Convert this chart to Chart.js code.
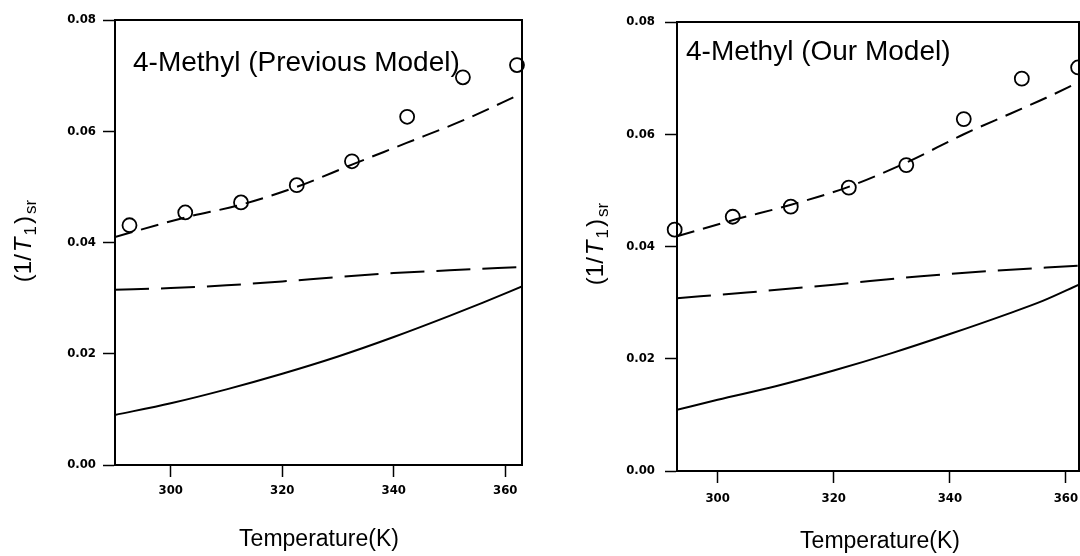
<!DOCTYPE html>
<html lang="en">
<head>
<meta charset="UTF-8">
<title>4-Methyl (1/T1)sr vs Temperature</title>
<script src="https://cdn.jsdelivr.net/npm/chart.js"></script>
<style>
  * { margin:0; padding:0; box-sizing:border-box; }
  body { width:1080px; height:556px; background:#fff; overflow:hidden; position:relative; }
  .panel { position:absolute; top:0; width:540px; height:556px; }
  #leftPanel { left:0; }
  #rightPanel { left:540px; }
</style>
</head>
<body>
<div class="panel" id="leftPanel"><canvas id="chartPrev" width="540" height="556"></canvas></div>
<div class="panel" id="rightPanel"><canvas id="chartOurs" width="540" height="556"></canvas></div>
<script>
// ticks
var xTicks = [300, 320, 340, 360];
var yTicks = [0.00, 0.02, 0.04, 0.06, 0.08];

// measured points (circles)
var tempMeasured = [292.6, 302.6, 312.6, 322.6, 332.5, 342.4, 352.4, 362.1];
var prevMeasured = [0.0431, 0.0454, 0.0472, 0.0503, 0.0546, 0.0626, 0.0697, 0.0719];
var oursMeasured = [0.0430, 0.0453, 0.0471, 0.0505, 0.0545, 0.0627, 0.0699, 0.0719];

// previous model curves
var prevTotalT = [290, 302.6, 312.6, 322.6, 332.5, 342.3, 352.3, 363];
var prevTotal  = [0.0410, 0.0445, 0.0468, 0.0500, 0.0540, 0.0579, 0.0619, 0.0668];
var prevDashT  = [290, 300, 310, 320, 330, 340, 350, 363];
var prevDash   = [0.0315, 0.0318, 0.0323, 0.0330, 0.0338, 0.0345, 0.0350, 0.0356];
var prevSolidT = [290, 300, 310, 320, 330, 340, 350, 356, 363];
var prevSolid  = [0.0090, 0.0111, 0.0136, 0.0164, 0.0195, 0.0230, 0.0268, 0.0292, 0.0321];

// our model curves
var oursTotalT = [293, 302.3, 312.5, 322.2, 332.6, 342.4, 350.5, 356.6, 362.25];
var oursTotal  = [0.0418, 0.0446, 0.0474, 0.0505, 0.0550, 0.0600, 0.0637, 0.0665, 0.0693];
var oursDashT  = [293, 305, 320, 335, 345, 362.25];
var oursDash   = [0.0308, 0.0318, 0.0332, 0.0347, 0.0355, 0.0366];
var oursSolidT = [293, 300, 310, 320, 330, 340, 350, 356, 362.25];
var oursSolid  = [0.0109, 0.0127, 0.0151, 0.0179, 0.0210, 0.0244, 0.0280, 0.0303, 0.0332];

var SANS = '"Liberation Sans", Arial, sans-serif';

function pts(xs, ys) {
  return xs.map(function(x, i) { return { x: x, y: ys[i] }; });
}

// frame + texts drawn on top of the chart
var panelText = {
  id: 'panelText',
  afterDraw: function(chart, args, o) {
    var ctx = chart.ctx, a = chart.chartArea;
    ctx.save();
    ctx.strokeStyle = '#000'; ctx.lineWidth = 2;
    ctx.beginPath();
    ctx.moveTo(a.left, a.top); ctx.lineTo(a.right, a.top); ctx.lineTo(a.right, a.bottom);
    ctx.stroke();

    ctx.fillStyle = '#000';
    ctx.font = '28px ' + SANS;
    ctx.textAlign = 'left'; ctx.textBaseline = 'middle';
    ctx.fillText(o.title, o.titleX, o.titleY);

    ctx.font = '23px ' + SANS;
    ctx.textAlign = 'center';
    ctx.fillText('Temperature(K)', o.xTitleX, o.xTitleY);

    // (1/T1)sr rotated, with subscripts
    var parts = [['(1/', '24px ' + SANS, 0], ['T', 'italic 24px ' + SANS, 0], ['1', '17px ' + SANS, 7],
                 [')', '24px ' + SANS, 0], ['sr', '17px ' + SANS, 7]];
    ctx.translate(o.yTitleX, o.yTitleY);
    ctx.rotate(-Math.PI / 2);
    ctx.textAlign = 'left';
    var total = 0;
    parts.forEach(function(p) { ctx.font = p[1]; total += ctx.measureText(p[0]).width + 2; });
    var x = -total / 2;
    parts.forEach(function(p) {
      ctx.font = p[1];
      ctx.fillText(p[0], x, p[2]);
      x += ctx.measureText(p[0]).width + 2;
    });
    ctx.restore();
  }
};

function makeChart(id, cfg) {
  var tickFont = { family: '"DejaVu Sans Condensed", "Liberation Sans Narrow", "DejaVu Sans"', weight: 'bold', size: 13 };
  return new Chart(document.getElementById(id), {
    type: 'scatter',
    data: {
      datasets: [
        { data: pts(tempMeasured, cfg.measured), showLine: false, pointStyle: 'circle', pointRadius: 7,
          borderColor: '#000', borderWidth: 1.8, backgroundColor: 'rgba(0,0,0,0)', clip: false },
        { data: pts(cfg.totalT, cfg.total), showLine: true, pointRadius: 0, borderColor: '#000',
          borderWidth: 2, borderDash: [18, 9], cubicInterpolationMode: 'monotone' },
        { data: pts(cfg.dashT, cfg.dash), showLine: true, pointRadius: 0, borderColor: '#000',
          borderWidth: 2, borderDash: [34, 12], cubicInterpolationMode: 'monotone' },
        { data: pts(cfg.solidT, cfg.solid), showLine: true, pointRadius: 0, borderColor: '#000',
          borderWidth: 2, cubicInterpolationMode: 'monotone' }
      ]
    },
    options: {
      responsive: false,
      animation: false,
      events: [],
      layout: { autoPadding: false, padding: { left: 0, right: cfg.padRight, top: cfg.padTop, bottom: 0 } },
      plugins: { legend: { display: false }, tooltip: { enabled: false }, panelText: cfg.text },
      scales: {
        x: {
          type: 'linear', min: cfg.xMin, max: cfg.xMax,
          afterFit: function(s) { s.height = cfg.xHeight; s.paddingLeft = 0; s.paddingRight = 0; },
          afterBuildTicks: function(s) { s.ticks = xTicks.map(function(v) { return { value: v }; }); },
          grid: { drawOnChartArea: false, tickLength: 12, tickColor: '#000', tickWidth: 1.5 },
          border: { display: true, color: '#000', width: 2 },
          ticks: { color: '#000', font: tickFont, padding: cfg.xPad, maxRotation: 0,
                   callback: function(v) { return String(v); } }
        },
        y: {
          min: 0, max: 0.08,
          afterFit: function(s) { s.width = cfg.yWidth; s.paddingTop = 0; s.paddingBottom = 0; },
          afterBuildTicks: function(s) { s.ticks = yTicks.map(function(v) { return { value: v }; }); },
          grid: { drawOnChartArea: false, tickLength: 12, tickColor: '#000', tickWidth: 1.5 },
          border: { display: true, color: '#000', width: 2 },
          ticks: { color: '#000', font: tickFont, padding: cfg.yPad,
                   callback: function(v) { return Number(v).toFixed(2); } }
        }
      }
    },
    plugins: [panelText]
  });
}

makeChart('chartPrev', {
  measured: prevMeasured,
  totalT: prevTotalT, total: prevTotal,
  dashT: prevDashT, dash: prevDash,
  solidT: prevSolidT, solid: prevSolid,
  xMin: 290, xMax: 363,
  yWidth: 115, padRight: 18, padTop: 20, xHeight: 91, xPad: 6, yPad: 7,
  text: { title: '4-Methyl (Previous Model)', titleX: 133, titleY: 63,
          xTitleX: 319, xTitleY: 540, yTitleX: 24, yTitleY: 240 }
});

makeChart('chartOurs', {
  measured: oursMeasured,
  totalT: oursTotalT, total: oursTotal,
  dashT: oursDashT, dash: oursDash,
  solidT: oursSolidT, solid: oursSolid,
  xMin: 293, xMax: 362.25,
  yWidth: 137, padRight: 1, padTop: 22, xHeight: 85, xPad: 8, yPad: 10,
  text: { title: '4-Methyl (Our Model)', titleX: 146, titleY: 52,
          xTitleX: 340, xTitleY: 542, yTitleX: 56, yTitleY: 243 }
});
</script>
</body>
</html>
